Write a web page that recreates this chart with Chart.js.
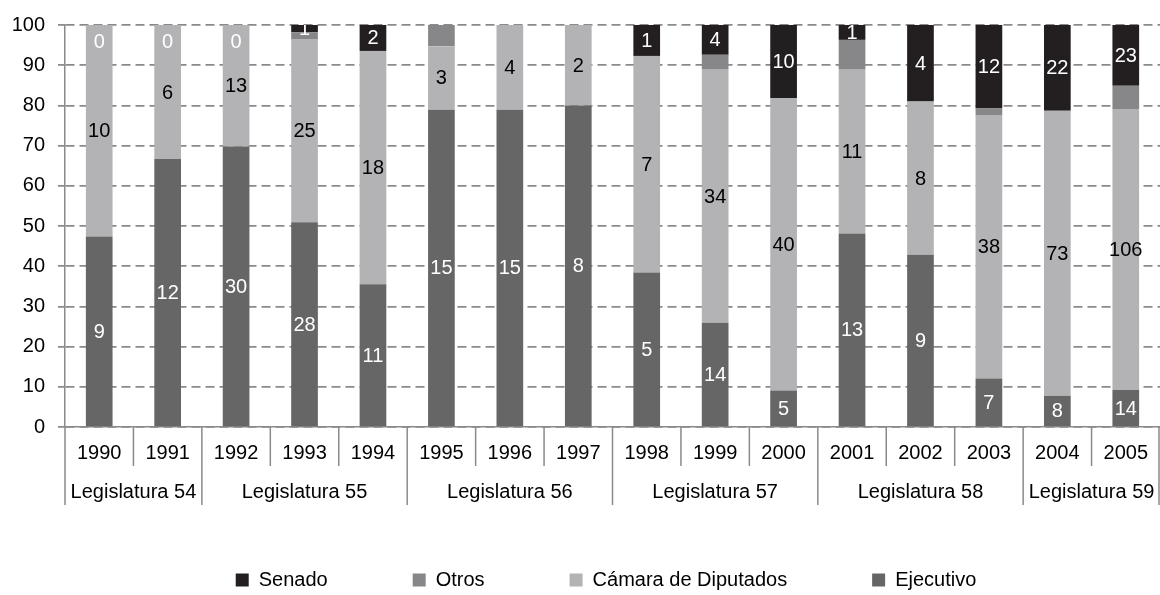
<!DOCTYPE html>
<html>
<head>
<meta charset="utf-8">
<script src="https://cdn.jsdelivr.net/npm/chart.js@4.4.1/dist/chart.umd.min.js"></script>
<style>
  html, body { margin: 0; padding: 0; background: #fff; }
  #wrap { width: 1160px; height: 595px; }
</style>
</head>
<body>
<div id="wrap"><canvas id="mycanvas"></canvas></div>
<script>
// counts per year (labels show counts, bars show share of total)
const years = ['1990','1991','1992','1993','1994','1995','1996','1997','1998','1999','2000','2001','2002','2003','2004','2005'];
const ejecutivo = [9, 12, 30, 28, 11, 15, 15, 8, 5, 14, 5, 13, 9, 7, 8, 14];
const camara    = [10, 6, 13, 25, 18, 3, 4, 2, 7, 34, 40, 11, 8, 38, 73, 106];
const otros     = [0, 0, 0, 1, 0, 1, 0, 0, 0, 2, 0, 2, 0, 1, 0, 9];
const senado    = [0, 0, 0, 1, 2, null, null, null, 1, 4, 10, 1, 4, 12, 22, 23];

const legislaturas = ['Legislatura 54','Legislatura 55','Legislatura 56','Legislatura 57','Legislatura 58','Legislatura 59'];
const legYears     = [2, 3, 3, 3, 3, 2];

const totals = years.map((y, i) => ejecutivo[i] + camara[i] + otros[i] + (senado[i] || 0));
function pct(arr) {
    return arr.map((v, i) => v == null ? null : v / totals[i] * 100);
}

const FONT = "'Liberation Sans', Arial, sans-serif";
Chart.defaults.font.family = FONT;
Chart.defaults.font.size = 20;
Chart.defaults.color = '#000';

const AXIS_GRAY = '#8a8a8a';

const data = {
    labels: years,
    datasets: [
        { label: 'Ejecutivo', data: pct(ejecutivo), counts: ejecutivo, backgroundColor: '#666666', labelColor: '#fff' },
        { label: 'Cámara de Diputados', data: pct(camara), counts: camara, backgroundColor: '#b3b3b6', labelColor: '#000' },
        { label: 'Otros', data: pct(otros), counts: otros, backgroundColor: '#87878a', labelColor: null },
        { label: 'Senado', data: pct(senado), counts: senado, backgroundColor: '#231f20', labelColor: '#fff' }
    ]
};

// count labels inside the segments
const segLabels = {
    id: 'segLabels',
    afterDatasetsDraw(chart) {
        const ctx = chart.ctx;
        const area = chart.chartArea;
        ctx.save();
        ctx.beginPath();
        ctx.rect(area.left, area.top, area.right - area.left, area.bottom - area.top);
        ctx.clip();
        ctx.font = '20px ' + FONT;
        ctx.textAlign = 'center';
        ctx.textBaseline = 'middle';
        chart.data.datasets.forEach((ds, d) => {
            if (!ds.labelColor) return;
            const meta = chart.getDatasetMeta(d);
            meta.data.forEach((el, i) => {
                const c = ds.counts[i];
                if (c == null) return;
                let y = (el.y + el.base) / 2 + 1;
                if (c === 0) y = area.top + 17;
                ctx.fillStyle = ds.labelColor;
                ctx.fillText(String(c), el.x, y);
            });
        });
        ctx.restore();
    }
};

// two level category axis: separators + legislatura row
const groupAxis = {
    id: 'groupAxis',
    afterDraw(chart) {
        const ctx = chart.ctx;
        const area = chart.chartArea;
        const n = years.length;
        const w = (area.right - area.left) / n;
        const bounds = [0];
        legYears.forEach(c => bounds.push(bounds[bounds.length - 1] + c));
        ctx.save();
        ctx.strokeStyle = AXIS_GRAY;
        ctx.lineWidth = 1.5;
        for (let i = 0; i <= n; i++) {
            const x = Math.min(area.left + i * w, area.right - 1);
            const long = bounds.indexOf(i) >= 0;
            ctx.beginPath();
            ctx.moveTo(x, area.bottom);
            ctx.lineTo(x, area.bottom + (long ? 78 : 39));
            ctx.stroke();
        }
        ctx.font = '20px ' + FONT;
        ctx.fillStyle = '#000';
        ctx.textAlign = 'center';
        ctx.textBaseline = 'middle';
        legislaturas.forEach((name, k) => {
            const x0 = area.left + bounds[k] * w;
            const x1 = area.left + bounds[k + 1] * w;
            ctx.fillText(name, (x0 + x1) / 2, area.bottom + 65);
        });
        ctx.restore();
    }
};

// nudge the legend to sit where the original has it
const legendShift = {
    id: 'legendShift',
    afterLayout(chart) {
        if (chart.legend) chart.legend.left += 52;
    }
};

const config = {
    type: 'bar',
    data,
    plugins: [segLabels, groupAxis, legendShift],
    options: {
        responsive: true,
        maintainAspectRatio: false,
        animation: false,
        layout: { padding: { top: 8, right: 0, bottom: -5, left: 0 } },
        datasets: {
            bar: { categoryPercentage: 1, barPercentage: 0.39, borderWidth: 0 }
        },
        plugins: {
            tooltip: { enabled: false },
            legend: {
                position: 'bottom',
                reverse: true,
                labels: { boxWidth: 13, boxHeight: 13, padding: 85, font: { size: 20 }, color: '#000' }
            }
        },
        scales: {
            x: {
                stacked: true,
                grid: { display: false },
                border: { display: true, color: AXIS_GRAY, width: 1.5 },
                ticks: { padding: 6, font: { size: 20 }, color: '#000', maxRotation: 0, autoSkip: false },
                afterFit(scale) { scale.height = 58; }
            },
            y: {
                stacked: true,
                min: 0,
                max: 100,
                ticks: { stepSize: 10, padding: 13, font: { size: 20 }, color: '#000' },
                grid: { color: AXIS_GRAY, lineWidth: 1.75, tickLength: 7, tickBorderDash: [] },
                border: { display: true, color: AXIS_GRAY, width: 1.5, dash: [9, 5] },
                afterFit(scale) { scale.width = 65; }
            }
        }
    }
};

const myChart = new Chart(document.getElementById('mycanvas'), config);
</script>
</body>
</html>
